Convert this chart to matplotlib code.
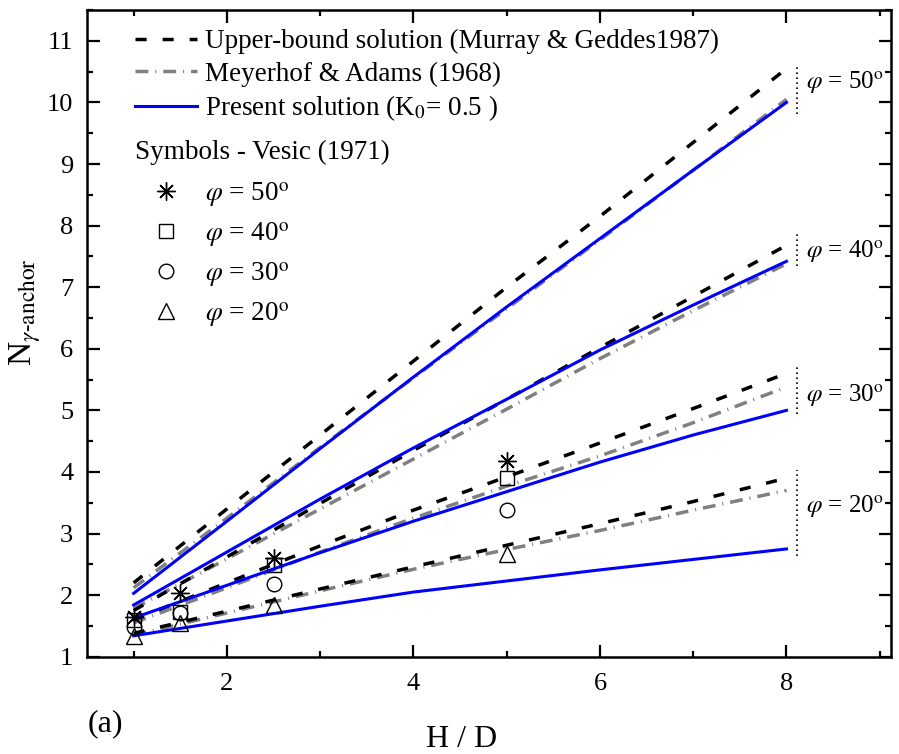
import matplotlib
matplotlib.use('Agg')
import matplotlib.pyplot as plt
from matplotlib.lines import Line2D
from matplotlib.ticker import MultipleLocator

plt.rcParams['font.family'] = ['Liberation Serif', 'DejaVu Serif']
plt.rcParams['mathtext.fontset'] = 'stix'

# H/D values for the curves
hd = [1, 2, 3, 4, 5, 6, 7, 8]

# upper-bound solution (Murray & Geddes 1987)
ub50 = [2.2, 3.4, 4.6, 5.8, 7.0, 8.15, 9.35, 10.55]
ub40 = [1.75, 2.62, 3.49, 4.35, 5.18, 6.02, 6.85, 7.68]
ub30 = [1.6, 2.2, 2.8, 3.38, 3.92, 4.47, 5.03, 5.6]
ub20 = [1.38, 1.74, 2.1, 2.46, 2.81, 3.16, 3.52, 3.9]

# Meyerhof & Adams (1968)
ma50 = [2.12, 3.25, 4.4, 5.53, 6.65, 7.77, 8.9, 10.05]
ma40 = [1.78, 2.59, 3.4, 4.21, 5.02, 5.84, 6.62, 7.38]
ma30 = [1.55, 2.12, 2.7, 3.25, 3.77, 4.26, 4.8, 5.38]
ma20 = [1.35, 1.71, 2.07, 2.42, 2.74, 3.05, 3.38, 3.7]

# present solution (K0 = 0.5)
ps50 = [2.03, 3.2, 4.38, 5.54, 6.68, 7.79, 8.9, 10.0]
ps40 = [1.84, 2.7, 3.56, 4.39, 5.18, 5.98, 6.71, 7.42]
ps30 = [1.63, 2.16, 2.69, 3.2, 3.68, 4.16, 4.6, 5.0]
ps20 = [1.34, 1.58, 1.82, 2.05, 2.23, 2.41, 2.58, 2.75]

# Vesic (1971) test points
hd_v = [1, 1.5, 2.5, 5]
v50 = [1.64, 2.03, 2.61, 4.18]
v40 = [1.6, 1.72, 2.49, 3.9]
v30 = [1.48, 1.71, 2.18, 3.38]
v20 = [1.33, 1.55, 1.84, 2.66]

phi_labels = ['50', '40', '30', '20']
brace_x = 8.11
brace_spans = [(9.82, 10.63), (7.35, 7.89), (4.94, 5.74), (2.63, 4.03)]
label_y = [10.32, 7.58, 5.24, 3.43]


def phi_text(s):
    return r'$\varphi$ = ' + s + r'$^{\mathrm{o}}$'


fig = plt.figure(figsize=(8.99, 7.54), dpi=100)
ax = fig.add_axes([0.0968, 0.129, 0.8942, 0.8577])

ub_style = dict(color='black', lw=2.5, ls=(0, (3.2, 4.6)))
ma_style = dict(color='#808080', lw=2.5, ls=(0, (3.7, 2.0, 0.3, 2.0)))
ps_style = dict(color='#0000ff', lw=2.2, ls='-')

for u, m, p in zip([ub50, ub40, ub30, ub20], [ma50, ma40, ma30, ma20], [ps50, ps40, ps30, ps20]):
    ax.plot(hd, m, **ma_style)
    ax.plot(hd, u, **ub_style)
    ax.plot(hd, p, **ps_style)

mk = dict(ls='none', mfc='none', mec='black', mew=1.0)
ax.plot(hd_v, v50, marker=(8, 2, 0), ms=13, **mk)
ax.plot(hd_v, v40, marker='s', ms=9.5, **mk)
ax.plot(hd_v, v30, marker='o', ms=10.5, **mk)
ax.plot(hd_v, v20, marker='^', ms=12, **mk)

for (y0, y1), lab, yl in zip(brace_spans, phi_labels, label_y):
    ax.plot([brace_x, brace_x], [y0, y1], color='black', lw=1.2, ls=(0, (1, 2)))
    ax.text(brace_x + 0.1, yl, phi_text(lab), fontsize=18, va='center', ha='left')

ax.set_xlim(0.5, 9.12)
ax.set_ylim(1, 11.5)
ax.xaxis.set_major_locator(MultipleLocator(2))
ax.xaxis.set_minor_locator(MultipleLocator(1))
ax.yaxis.set_major_locator(MultipleLocator(1))
ax.yaxis.set_minor_locator(MultipleLocator(0.5))
ax.tick_params(which='both', direction='in', top=True, right=True, labelsize=19, width=1.6)
ax.tick_params(which='major', length=9)
ax.tick_params(which='minor', length=4.5)
ax.tick_params(axis='x', pad=12)
ax.tick_params(axis='y', pad=10)
for s in ax.spines.values():
    s.set_linewidth(1.8)

ax.set_ylabel(r'N$_{\gamma\mathrm{\text{-}anchor}}$', fontsize=24)
ax.yaxis.set_label_coords(-0.055, 0.532)
ax.set_xlabel('H / D', fontsize=23)
ax.xaxis.set_label_coords(0.466, -0.105)
fig.text(0.098, 0.03, '(a)', fontsize=23)

h1 = [Line2D([], [], **ub_style), Line2D([], [], **ma_style), Line2D([], [], **ps_style)]
l1 = ['Upper-bound solution (Murray & Geddes1987)', 'Meyerhof & Adams (1968)',
      r'Present solution (K$_0$= 0.5 )']
leg1 = ax.legend(h1, l1, loc='upper left', bbox_to_anchor=(0.046, 0.987), frameon=False,
                 fontsize=19.5, handlelength=2.3, handletextpad=0.3, labelspacing=0.26,
                 borderaxespad=0)
ax.add_artist(leg1)

ax.text(0.06, 0.78, 'Symbols - Vesic (1971)', transform=ax.transAxes, fontsize=19.5,
        va='center', ha='left')

h2 = [Line2D([], [], marker=(8, 2, 0), ms=13, **mk),
      Line2D([], [], marker='s', ms=9.5, **mk),
      Line2D([], [], marker='o', ms=10.5, **mk),
      Line2D([], [], marker='^', ms=12, **mk)]
l2 = [phi_text(s) for s in phi_labels]
ax.legend(h2, l2, loc='upper left', bbox_to_anchor=(0.068, 0.754), frameon=False,
          fontsize=19.5, handlelength=1.0, handletextpad=0.94, labelspacing=0.42,
          borderaxespad=0)

fig.savefig('out.png', dpi=100)
